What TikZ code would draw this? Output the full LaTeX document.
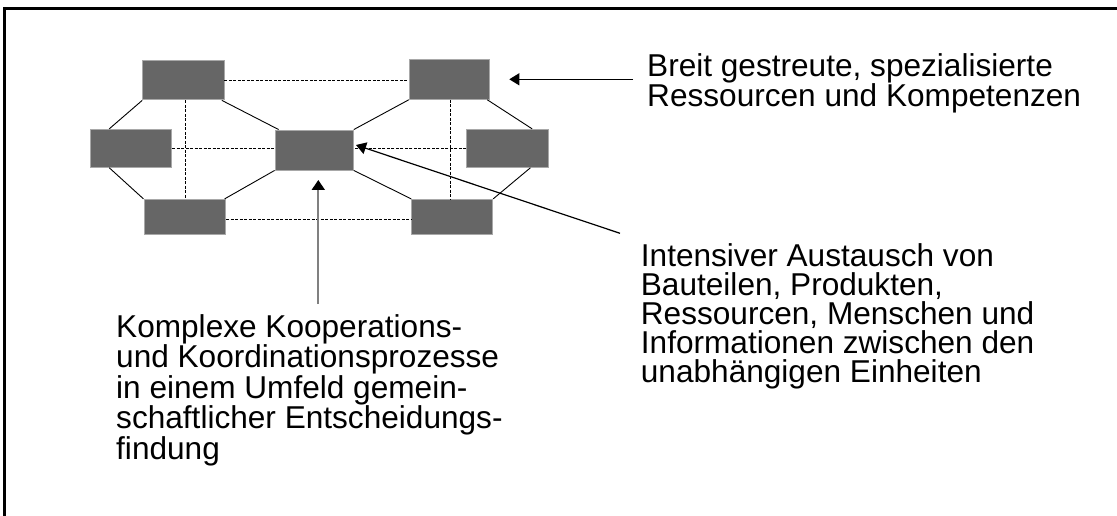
\documentclass[tikz,border=0pt]{standalone}
\usepackage{fontspec}
\setmainfont{Liberation Sans}
\usetikzlibrary{arrows.meta,calc}
\definecolor{boxfill}{HTML}{666666}
\definecolor{boxedge}{HTML}{A8A8A8}
\definecolor{upgray}{HTML}{808080}
\begin{document}
\begin{tikzpicture}[x=1pt,y=-1pt,
  unit/.style 2 args={draw=boxedge, line width=0.9pt, fill=boxfill, inner sep=0pt,
    minimum width=#1, minimum height=#2},
  link/.style={line width=0.9pt, black},
  dlink/.style={line width=0.9pt, black, dash pattern=on 3pt off 1.5pt},
  pointer/.style={line width=1.2pt, black, -{Triangle[length=10pt,width=12pt]}},
  uppointer/.style={line width=2pt, upgray, -{Triangle[length=10pt,width=13pt,black]}},
  label/.style={anchor=north west, inner sep=0pt, align=left, font=\fontsize{31.6}{29}\selectfont},
  labelL/.style={anchor=north west, inner sep=0pt, align=left, font=\fontsize{31.6}{28.7}\selectfont}]
\useasboundingbox (0,0) rectangle (1117,516);
\clip (0,0) rectangle (1117,516);
% frame
\draw[line width=3pt] (4.5,530) -- (4.5,8.5) -- (1130,8.5);
% boxes
\node[unit={81.3}{39.3}] (TL) at (183.3,80.3) {};
\node[unit={81}{38}]     (ML) at (131.2,148.3) {};
\node[unit={81.7}{34.7}] (BL) at (184.8,216.7) {};
\node[unit={78.3}{40}]   (C)  at (314.2,150) {};
\node[unit={80}{40}]     (TR) at (449.3,79.3) {};
\node[unit={81.6}{38}]   (MR) at (507.5,148.3) {};
\node[unit={81}{34.7}]   (BR) at (452.2,216.7) {};
% dashed links
\draw[dlink] (TL.east) -- (TR.west |- TL.east);
\draw[dlink] (ML.east) -- (C.west |- ML.east);
\draw[dlink] (MR.west) -- (C.east |- MR.west);
\draw[dlink] ([yshift=-2.5pt]BL.east) -- ([yshift=-2.5pt]BR.west);
\draw[dlink] ([xshift=1.7pt]TL.south) -- ([xshift=1.7pt]TL.south |- BL.north);
\draw[dlink] ([xshift=1.4pt]TR.south) -- ([xshift=1.4pt]TR.south |- BR.north);
% solid links
\draw[link] (TL.south west) -- ([xshift=19pt]ML.north west);
\draw[link] ([xshift=19pt]ML.south west) -- (BL.north west);
\draw[link] ([xshift=-2.5pt]TL.south east) -- ([xshift=4pt]C.north west);
\draw[link] (C.south west) -- ([xshift=-1.5pt]BL.north east);
\draw[link] (C.north east) -- (TR.south west);
\draw[link] (C.south east) -- (BR.north west);
\draw[link] ([xshift=-2.5pt]TR.south east) -- ([xshift=-16.6pt]MR.north east);
\draw[link] ([xshift=-18.3pt]MR.south east) -- (BR.north east);
% labels
\node[label] (t1) at (647,53.3) {Breit gestreute, spezialisierte\\Ressourcen und Kompetenzen};
\node[label] (t2) at (640.7,243.3) {Intensiver Austausch von\\Bauteilen, Produkten,\\Ressourcen, Menschen und\\Informationen zwischen den\\unabhängigen Einheiten};
\node[labelL] (t3) at (116,314.3) {Komplexe Kooperations-\\und Koordinationsprozesse\\in einem Umfeld gemein-\\schaftlicher Entscheidungs-\\findung};
% pointers
\coordinate (p1) at (633,79.3);
\coordinate (p2) at (620,233.3);
\coordinate (p3) at (318.3,304);
\coordinate (q1) at (509.3,79.3);
\coordinate (q2) at (356,145);
\coordinate (q3) at (318.3,180);
\draw[pointer] (p1) -- (q1);
\draw[pointer] (p2) -- (q2);
\draw[uppointer] (p3) -- (q3);
\end{tikzpicture}
\end{document}
